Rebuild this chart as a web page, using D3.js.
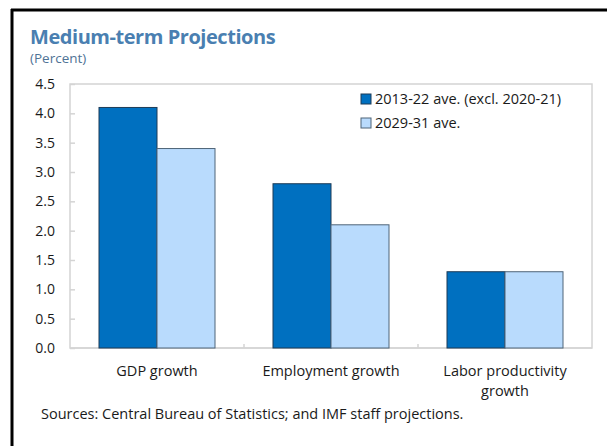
<!DOCTYPE html>
<html>
<head>
<meta charset="utf-8">
<script src="https://cdn.jsdelivr.net/npm/d3@7/dist/d3.min.js"></script>
<style>
  html, body { margin: 0; padding: 0; background: #fff; }
  svg { display: block; }
  text { font-family: "Open Sans", "Noto Sans", sans-serif; }
</style>
</head>
<body>
<script>
// Categories and series values (percent)
const categories = ["GDP growth", "Employment growth", "Labor productivity growth"];
const categoryLines = [["GDP growth"], ["Employment growth"], ["Labor productivity", "growth"]];
const seriesNames = ["2013-22 ave. (excl. 2020-21)", "2029-31 ave."];
const historical = [4.1, 2.8, 1.3];
const projected = [3.4, 2.1, 1.3];
const yTicks = [0, 0.5, 1.0, 1.5, 2.0, 2.5, 3.0, 3.5, 4.0, 4.5];

const W = 609, H = 446;
const plot = { left: 70, top: 84, right: 592, bottom: 348 };
const colors = ["#0070c0", "#b9dbfd"];
const strokes = ["#1d3b57", "#4f6478"];
const textSize = 14.5;

const svg = d3.select("body").append("svg").attr("width", W).attr("height", H);

// Outer frame: top and left rules
svg.append("line").attr("x1", 11).attr("x2", 607).attr("y1", 10).attr("y2", 10)
  .attr("stroke", "#000").attr("stroke-width", 3);
svg.append("line").attr("x1", 12).attr("x2", 12).attr("y1", 9).attr("y2", H)
  .attr("stroke", "#000").attr("stroke-width", 3);

// Title and unit
svg.append("text").attr("x", 30).attr("y", 44)
  .attr("font-size", 20).attr("font-weight", 700).attr("fill", "#4a7fb1")
  .attr("letter-spacing", -0.45)
  .text("Medium-term Projections");
svg.append("text").attr("x", 30).attr("y", 63)
  .attr("font-size", 13.5).attr("fill", "#4f7396")
  .text("(Percent)");

const x = d3.scaleBand().domain(categories)
  .range([plot.left, plot.right]).paddingInner(1 / 3).paddingOuter(1 / 6);
const xs = d3.scaleBand().domain(seriesNames).range([0, x.bandwidth()]);
const y = d3.scaleLinear().domain([0, 4.5]).range([plot.bottom, plot.top]);

// Plot border
svg.append("rect").attr("x", plot.left).attr("y", plot.top)
  .attr("width", plot.right - plot.left).attr("height", plot.bottom - plot.top)
  .attr("fill", "none").attr("stroke", "#d4d4d4").attr("stroke-width", 1.5);

// Y axis (ticks inside the plot)
const yAxis = d3.axisLeft(y).tickValues(yTicks).tickFormat(d3.format(".1f"))
  .tickSizeInner(-5).tickSizeOuter(0).tickPadding(15);
const gy = svg.append("g").attr("transform", `translate(${plot.left},0)`).call(yAxis);
gy.select(".domain").remove();
gy.selectAll(".tick line").attr("stroke", "#d4d4d4").attr("stroke-width", 1.5);
gy.selectAll(".tick text").attr("font-size", 14).attr("fill", "#1a1a1a")
  .attr("font-family", "'Open Sans', 'Noto Sans', sans-serif");

// X axis: category separators pointing up, labels below
const bounds = d3.range(1, categories.length).map(i => x(categories[i]) - x.step() * x.paddingInner() / 2);
svg.append("g").selectAll("line").data(bounds).join("line")
  .attr("x1", d => d).attr("x2", d => d)
  .attr("y1", plot.bottom).attr("y2", plot.bottom - 4)
  .attr("stroke", "#d4d4d4").attr("stroke-width", 1.5);
svg.append("line").attr("x1", plot.left).attr("x2", plot.right)
  .attr("y1", plot.bottom).attr("y2", plot.bottom)
  .attr("stroke", "#d4d4d4").attr("stroke-width", 1.5);

// Bars
const series = [historical, projected];
series.forEach((vals, si) => {
  svg.append("g").selectAll("rect").data(vals).join("rect")
    .attr("x", (d, i) => x(categories[i]) + xs(seriesNames[si]))
    .attr("y", d => y(d))
    .attr("width", xs.bandwidth())
    .attr("height", d => y(0) - y(d))
    .attr("fill", colors[si])
    .attr("stroke", strokes[si]).attr("stroke-width", 1);
});

// Category labels
const labels = svg.append("g").selectAll("text").data(categories).join("text")
  .attr("x", d => x(d) + x.bandwidth() / 2)
  .attr("y", 376)
  .attr("text-anchor", "middle").attr("font-size", textSize).attr("fill", "#1a1a1a");
labels.each(function(d, i) {
  d3.select(this).selectAll("tspan").data(categoryLines[i]).join("tspan")
    .attr("x", x(d) + x.bandwidth() / 2)
    .attr("dy", (t, j) => j === 0 ? 0 : 20)
    .text(t => t);
});

// Legend
const legend = svg.append("g").attr("transform", "translate(361,0)");
seriesNames.forEach((name, i) => {
  const cy = 99 + i * 24;
  legend.append("rect").attr("x", 0).attr("y", cy - 5).attr("width", 10).attr("height", 10)
    .attr("fill", colors[i]).attr("stroke", strokes[i]).attr("stroke-width", 1);
  legend.append("text").attr("x", 14).attr("y", cy + 5)
    .attr("font-size", textSize).attr("fill", "#1a1a1a").text(name);
});

// Source note
svg.append("text").attr("x", 41).attr("y", 419)
  .attr("font-size", textSize).attr("fill", "#1a1a1a")
  .text("Sources: Central Bureau of Statistics; and IMF staff projections.");
</script>
</body>
</html>
